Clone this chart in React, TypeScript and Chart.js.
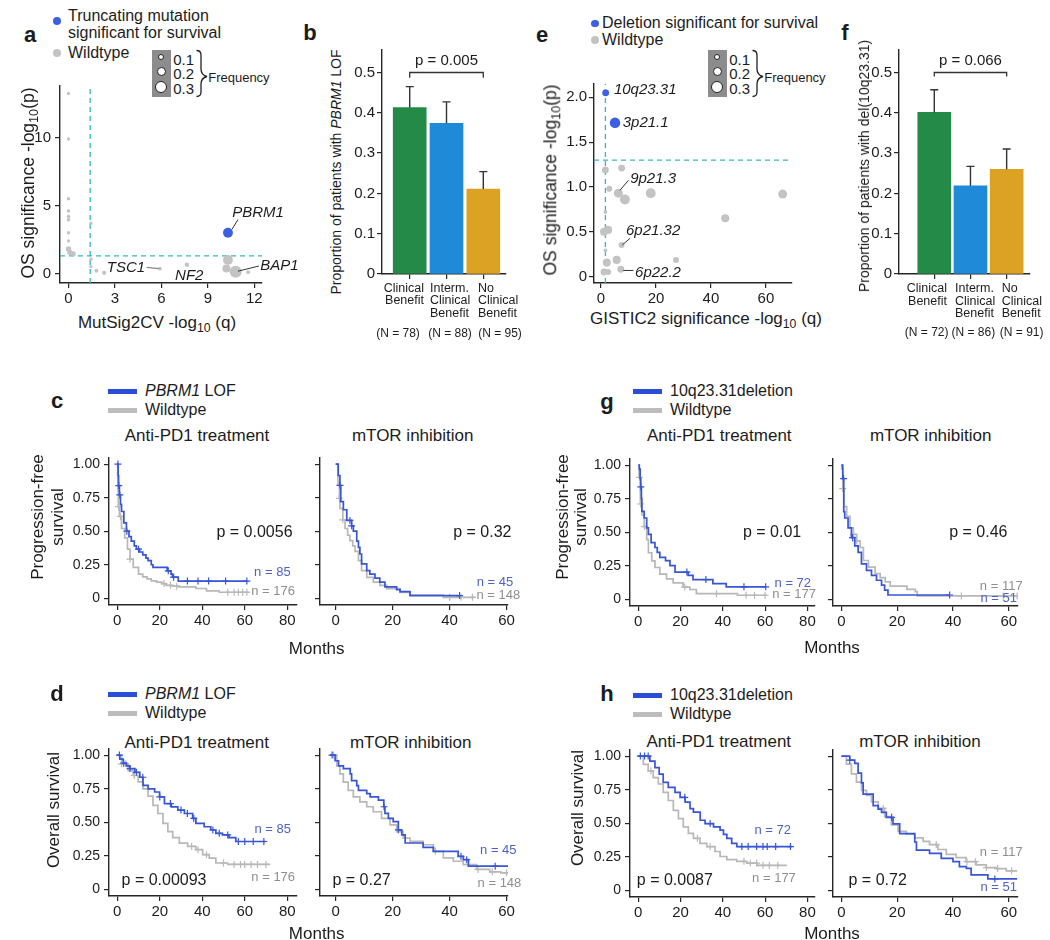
import React, { useEffect, useRef } from 'react';
import { Chart, registerables } from 'chart.js';

Chart.register(...registerables);

const FONT = '"Liberation Sans", Arial, Helvetica, sans-serif';
const INK = '#1c1c1c';
const AXIS = '#262626';
const KM_BLUE = '#3755d6';
const KM_GREY = '#b8b8b8';
const LEG_BLUE = '#2b4ed8';
const LEG_GREY = '#bdbdbd';
const N_BLUE = '#4d63c9';
const N_GREY = '#8f8f8f';
const PT_BLUE = '#3d5fe3';
const PT_GREY = '#c3c3c3';
const TEAL = '#36b8b8';
const BAR_COLORS = ['#248a48', '#1f8ad8', '#dba224'];

// ---------------- data: panel a (MutSig2CV vs OS) ----------------
const aWtQ = [0, 0, 0, 0, 0, 0, 0, 0, 0, 0.1, 0.3, 1.45, 1.45, 1.45, 1.8, 2.3, 5.9, 7.65, 10.3, 10.2, 10.8, 11.6];
const aWtP = [13.25, 9.9, 5.5, 4.6, 4.2, 3.95, 3.0, 2.4, 1.8, 1.55, 1.45, 3.7, 1.05, 0.5, 0.2, 0.05, 0.36, 0.65, 1.0, 0.37, 0.12, 0.1];
const aWtFreq = [0.01, 0.01, 0.02, 0.02, 0.02, 0.02, 0.01, 0.01, 0.08, 0.08, 0.07, 0.01, 0.01, 0.01, 0.03, 0.04, 0.03, 0.05, 0.23, 0.17, 0.3, 0.03];
const aTruncQ = [10.3];
const aTruncP = [3.0];
const aTruncFreq = [0.23];
const aTicksX = [0, 3, 6, 9, 12];
const aTicksY = [0, 5, 10];
const aSigQ = 1.4;
const sigP = 1.3;

// ---------------- data: panel e (GISTIC2 vs OS) ----------------
const eWtQ = [1.6, 7.5, 3.0, 6.3, 8.7, 18.1, 66.1, 45.2, 1.6, 1.1, 2.6, 7.5, 1.6, 5.7, 2.1, 27.3, 7.2, 1.1, 2.6];
const eWtP = [1.19, 1.21, 0.98, 0.93, 0.86, 0.93, 0.92, 0.65, 0.72, 0.5, 0.52, 0.35, 0.29, 0.185, 0.155, 0.185, 0.08, 0.05, 0.05];
const eWtFreq = [0.13, 0.13, 0.1, 0.2, 0.23, 0.23, 0.2, 0.17, 0.03, 0.17, 0.17, 0.1, 0.03, 0.17, 0.17, 0.1, 0.13, 0.13, 0.1];
const eDelQ = [1.7, 5.1];
const eDelP = [2.05, 1.715];
const eDelFreq = [0.13, 0.25];
const eTicksX = [0, 20, 40, 60];
const eTicksY = [0, 0.5, 1, 1.5, 2];
const eSigQ = 1.6;
const freqLegend = [0.1, 0.2, 0.3];

// ---------------- data: panels b, f (bars) ----------------
const benefitGroups = ['Clinical Benefit', 'Interm. Clinical Benefit', 'No Clinical Benefit'];
const groupIdx = [1, 2, 3];
const bLofProp = [0.413, 0.374, 0.211];
const bLofUpper = [0.465, 0.427, 0.254];
const bGroupN = [78, 88, 95];
const bPText = 'p = 0.005';
const fDelProp = [0.401, 0.219, 0.26];
const fDelUpper = [0.457, 0.267, 0.31];
const fGroupN = [72, 86, 91];
const fPText = 'p = 0.066';
const barTicksY = [0, 0.1, 0.2, 0.3, 0.4, 0.5];

// ---------------- data: KM curves (time of drop, survival after) ----------------
const kmTicksY = [0, 0.25, 0.5, 0.75, 1];
const kmTicksWide = [0, 20, 40, 60, 80];
const kmTicksNarrow = [0, 20, 40, 60];

// c: PFS, anti-PD1, PBRM1
const pfsPd1LofT = [0, 0.4, 0.6, 1, 1.5, 2, 3.1, 4.3, 5.5, 6.6, 8, 9, 10.5, 12, 13.5, 14.5, 16, 16.8, 23.5, 25.3, 26, 28.7, 61.2];
const pfsPd1LofS = [1, 0.915, 0.84, 0.77, 0.7, 0.647, 0.562, 0.5, 0.46, 0.426, 0.39, 0.366, 0.345, 0.324, 0.3, 0.28, 0.25, 0.23, 0.205, 0.18, 0.157, 0.128, 0.128];
const pfsPd1LofC = [0.3, 0.7, 1.2, 4.5, 10, 24, 26.5, 33, 38, 43, 51, 61];
const pfsPd1WtT = [0, 0.2, 0.3, 0.5, 1, 2, 3.5, 4.8, 6, 7.5, 10, 12, 14, 16, 18.5, 21, 23, 26, 29, 37, 42, 48, 62];
const pfsPd1WtS = [1, 0.9, 0.8, 0.683, 0.61, 0.52, 0.45, 0.366, 0.292, 0.23, 0.18, 0.16, 0.145, 0.13, 0.121, 0.11, 0.097, 0.09, 0.085, 0.073, 0.056, 0.045, 0.045];
const pfsPd1WtC = [0.6, 1.5, 6, 22, 25, 28, 52, 55, 57, 59, 61];
// c: PFS, mTOR, PBRM1
const pfsMtorLofT = [0, 0.9, 1.5, 1.8, 2.7, 3.9, 5.6, 6.2, 7.4, 8, 8.5, 9.1, 10.9, 12, 13.8, 15.5, 17.3, 21.4, 22.6, 26.1, 43.6];
const pfsMtorLofS = [1, 0.915, 0.842, 0.72, 0.66, 0.58, 0.54, 0.5, 0.426, 0.38, 0.33, 0.256, 0.206, 0.18, 0.15, 0.12, 0.085, 0.065, 0.05, 0.02, 0.02];
const pfsMtorLofC = [1.5, 5, 5.6, 43.5];
const pfsMtorWtT = [0, 0.8, 1.3, 1.5, 2.5, 3.3, 4.2, 5, 6, 6.8, 8, 9.1, 10.9, 13.2, 15.5, 17.9, 22.6, 26.1, 37.8, 48.9];
const pfsMtorWtS = [1, 0.85, 0.744, 0.67, 0.585, 0.52, 0.47, 0.43, 0.39, 0.35, 0.28, 0.206, 0.156, 0.12, 0.096, 0.072, 0.043, 0.023, 0.007, 0.007];
const pfsMtorWtC = [1.3, 2.5, 40, 44, 48];
// g: PFS, anti-PD1, 10q23.31
const pfsPd1DelT = [0, 0.5, 0.9, 1.2, 1.5, 1.7, 2.8, 4, 4.8, 6.1, 7.9, 9, 10.2, 12.9, 15, 17.4, 23.6, 25.9, 35.3, 41.6, 60.3];
const pfsPd1DelS = [1, 0.97, 0.9, 0.838, 0.75, 0.655, 0.606, 0.532, 0.484, 0.423, 0.386, 0.35, 0.312, 0.288, 0.251, 0.203, 0.178, 0.147, 0.117, 0.093, 0.093];
const pfsPd1DelC = [1.2, 23, 32, 50, 60.3];
const pfsPd1Wt2T = [0, 0.4, 0.9, 1, 1.8, 2.8, 4, 4.8, 6.4, 7.9, 10.2, 13.4, 16.5, 21.2, 24.4, 27.5, 46.9, 61];
const pfsPd1Wt2S = [1, 0.908, 0.8, 0.71, 0.628, 0.542, 0.444, 0.347, 0.286, 0.237, 0.188, 0.152, 0.122, 0.091, 0.073, 0.042, 0.03, 0.03];
const pfsPd1Wt2C = [0.6, 1.1, 3, 22, 37, 51, 55, 60];
// g: PFS, mTOR, 10q23.31
const pfsMtorDelT = [0, 0.5, 0.85, 1.2, 2.4, 3.6, 4.8, 6, 7.2, 9, 10.8, 12.6, 14.4, 15.5, 16.7, 38.8];
const pfsMtorDelS = [1, 0.9, 0.654, 0.606, 0.532, 0.459, 0.398, 0.35, 0.264, 0.215, 0.178, 0.142, 0.105, 0.068, 0.032, 0.032];
const pfsMtorDelC = [0.8, 4, 38.8];
const pfsMtorWt2T = [0, 0.1, 0.5, 0.9, 1.9, 3.1, 4.3, 5.5, 6.7, 7.9, 9.7, 12.1, 13.9, 15.7, 17.5, 23.5, 26.5, 27.2, 63];
const pfsMtorWt2S = [1, 0.972, 0.825, 0.691, 0.618, 0.532, 0.484, 0.435, 0.386, 0.289, 0.24, 0.191, 0.162, 0.13, 0.098, 0.074, 0.057, 0.025, 0.025];
const pfsMtorWt2C = [0.5, 4.3, 5.5, 43, 58, 63];
// d: OS, anti-PD1, PBRM1
const osPd1LofT = [0, 1.2, 2.8, 4.3, 5.9, 8.3, 10.6, 12.1, 14.5, 17.6, 19.9, 22.2, 25.4, 28.5, 31.6, 35.5, 37, 40.9, 44, 46.4, 49.5, 52.6, 55.8, 69.8];
const osPd1LofS = [1, 0.97, 0.94, 0.92, 0.9, 0.872, 0.835, 0.774, 0.749, 0.725, 0.688, 0.639, 0.614, 0.59, 0.565, 0.528, 0.491, 0.466, 0.442, 0.417, 0.405, 0.385, 0.356, 0.356];
const osPd1LofC = [1, 3, 6, 9, 12, 20, 25, 30, 33, 36, 45, 48, 52, 57, 60, 64, 69];
const osPd1WtT = [0, 2, 5.1, 7.5, 9.8, 12.1, 14.5, 16.8, 19.1, 21.5, 23.8, 26.1, 29.2, 33.1, 37, 40.2, 43.3, 46.4, 52, 72];
const osPd1WtS = [1, 0.935, 0.885, 0.848, 0.8, 0.749, 0.695, 0.626, 0.565, 0.491, 0.43, 0.385, 0.344, 0.32, 0.295, 0.258, 0.233, 0.196, 0.185, 0.185];
const osPd1WtC = [2, 4, 8, 35, 38, 42, 50, 55, 58, 60, 63, 66, 70];
// d: OS, mTOR, PBRM1
const osMtorLofT = [-2, -0.2, 1, 2.7, 5.1, 5.6, 7.4, 8, 10.9, 12.1, 15, 16.9, 17.3, 18.5, 20.2, 22, 23.2, 24.4, 30.7, 34.3, 43, 44.8, 46.6, 61.2];
const osMtorLofS = [1, 0.958, 0.92, 0.9, 0.86, 0.81, 0.773, 0.737, 0.713, 0.688, 0.664, 0.615, 0.566, 0.529, 0.504, 0.443, 0.406, 0.345, 0.312, 0.283, 0.246, 0.221, 0.172, 0.172];
const osMtorLofC = [-1, 17, 22, 44, 46, 56];
const osMtorWtT = [-2, 0.4, 1.5, 2.7, 4.4, 6.2, 8.5, 10.9, 13.2, 16.1, 19.1, 21.4, 23.7, 26.1, 30.7, 34.3, 37.8, 41.3, 44.8, 49.5, 54.1, 58, 61.8];
const osMtorWtS = [1, 0.92, 0.86, 0.798, 0.737, 0.688, 0.651, 0.615, 0.578, 0.529, 0.48, 0.43, 0.381, 0.357, 0.332, 0.283, 0.234, 0.209, 0.184, 0.148, 0.13, 0.123, 0.123];
const osMtorWtC = [-1.5, 35, 50, 55, 60];
// h: OS, anti-PD1, 10q23.31
const osPd1DelT = [0, 5.5, 7.9, 9.9, 11.8, 14.2, 17.4, 19.8, 22.2, 24.5, 26.1, 29.3, 31.6, 35.6, 38.7, 40.3, 41.9, 44.2, 46.6, 72.6];
const osPd1DelS = [1, 0.963, 0.914, 0.865, 0.804, 0.767, 0.73, 0.693, 0.657, 0.608, 0.583, 0.522, 0.497, 0.473, 0.448, 0.416, 0.387, 0.35, 0.326, 0.326];
const osPd1DelC = [1, 3, 4.7, 22, 34, 49, 52, 56, 59, 61, 65, 72];
const osPd1Wt2T = [0, 2.4, 4.7, 7.1, 9.5, 11.8, 14.2, 16.6, 19, 21.3, 23.7, 26.1, 29.2, 32.4, 36.3, 38.7, 41.9, 46.6, 51.3, 56.1, 70.3];
const osPd1Wt2S = [1, 0.939, 0.89, 0.84, 0.792, 0.73, 0.669, 0.595, 0.534, 0.473, 0.424, 0.387, 0.35, 0.326, 0.289, 0.252, 0.228, 0.216, 0.203, 0.186, 0.186];
const osPd1Wt2C = [6, 28, 34, 50, 53, 56, 59, 62, 66];
// h: OS, mTOR, 10q23.31
const osMtorDelT = [0, 3, 4.8, 6, 7.2, 7.8, 11.4, 13.2, 14.4, 16.1, 18.5, 20.9, 26.3, 26.9, 31.6, 35.8, 40, 42.3, 44.8, 46.5, 52.5, 63];
const osMtorDelS = [1, 0.97, 0.946, 0.873, 0.8, 0.716, 0.631, 0.605, 0.581, 0.544, 0.495, 0.422, 0.36, 0.3, 0.275, 0.238, 0.213, 0.176, 0.164, 0.115, 0.085, 0.085];
const osMtorDelC = [3, 18, 55];
const osMtorWt2T = [0, 1.8, 3.6, 5.4, 7.2, 9, 10.8, 13.2, 15.5, 17.9, 20.3, 23.3, 26.3, 29.3, 31.6, 34.6, 37.6, 41.1, 44.7, 48.3, 51.9, 55.5, 59.1, 63];
const osMtorWt2S = [1, 0.941, 0.868, 0.806, 0.745, 0.708, 0.659, 0.61, 0.549, 0.488, 0.439, 0.419, 0.39, 0.365, 0.341, 0.304, 0.267, 0.243, 0.213, 0.189, 0.169, 0.162, 0.145, 0.145];
const osMtorWt2C = [15, 34, 45, 48, 52, 56, 61];

// ---------------- helpers ----------------
const sizeOf = (f: number) => 1.5 + 15 * f;
const xy = (xs: number[], ys: number[]) => xs.map((x, i) => ({ x, y: ys[i] }));
const stepAt = (t: number[], s: number[], c: number) => {
  let v = s[0];
  for (let i = 0; i < t.length; i++) if (t[i] <= c) v = s[i];
  return v;
};

type Box = { l: number; t: number; r: number; b: number; pl: number; pt: number; pr: number; pb: number };
type Txt = { x: number; y: number; text: string; color?: string; size?: number; italic?: boolean; align?: CanvasTextAlign };
type Seg = { pts: [number, number][]; color: string; width: number };
type Ann = { texts?: Txt[]; segs?: Seg[]; err?: { x: number[]; lo: number[]; hi: number[] } };

function annPlugin(a: Ann) {
  return {
    id: 'ann',
    afterDatasetsDraw(chart: any) {
      const { ctx } = chart;
      const xs = chart.scales.x;
      const ys = chart.scales.y;
      const px = (v: number) => xs.getPixelForValue(v);
      const py = (v: number) => ys.getPixelForValue(v);
      ctx.save();
      (a.segs || []).forEach((s) => {
        ctx.beginPath();
        ctx.strokeStyle = s.color;
        ctx.lineWidth = s.width;
        s.pts.forEach(([x, y], i) => (i ? ctx.lineTo(px(x), py(y)) : ctx.moveTo(px(x), py(y))));
        ctx.stroke();
      });
      if (a.err) {
        const e = a.err;
        ctx.strokeStyle = '#333';
        ctx.lineWidth = 1.4;
        e.x.forEach((xv, i) => {
          const x = px(xv);
          const y0 = py(e.lo[i]);
          const y1 = py(e.hi[i]);
          ctx.beginPath();
          ctx.moveTo(x, y0);
          ctx.lineTo(x, y1);
          ctx.moveTo(x - 4, y1);
          ctx.lineTo(x + 4, y1);
          ctx.stroke();
        });
      }
      (a.texts || []).forEach((t) => {
        ctx.font = `${t.italic ? 'italic ' : ''}${t.size || 16}px ${FONT}`;
        ctx.fillStyle = t.color || INK;
        ctx.textAlign = t.align || 'center';
        ctx.textBaseline = 'middle';
        ctx.fillText(t.text, px(t.x), py(t.y));
      });
      ctx.restore();
    },
  };
}

function base(box: Box) {
  return {
    responsive: false,
    maintainAspectRatio: false,
    animation: false,
    events: [],
    layout: { padding: { top: box.pt, right: box.pr, left: 0, bottom: 0 }, autoPadding: false },
    plugins: { legend: { display: false }, tooltip: { enabled: false }, title: { display: false } },
  };
}

function linAxis(pos: 'left' | 'bottom', min: number, max: number, ticks: number[], fmt: (v: number) => string, size: number, pad: number, fit: number) {
  return {
    type: 'linear',
    position: pos,
    min,
    max,
    offset: false,
    afterBuildTicks: (s: any) => {
      s.ticks = ticks.map((v) => ({ value: v }));
    },
    afterFit: (s: any) => {
      if (pos === 'left') s.width = fit;
      else s.height = fit;
    },
    grid: { display: true, drawOnChartArea: false, drawTicks: true, tickLength: 5, color: AXIS, tickColor: AXIS, lineWidth: 1.2, offset: false },
    border: { display: true, color: AXIS, width: 1.4 },
    ticks: { autoSkip: false, maxRotation: 0, minRotation: 0, color: INK, padding: pad, font: { family: FONT, size }, callback: (v: number) => fmt(v) },
  };
}

function dashed(pts: { x: number; y: number }[]) {
  return { data: pts, showLine: true, borderColor: TEAL, borderDash: [5, 4], borderWidth: 1.3, pointRadius: 0, fill: false };
}

function ChartBox({ box, build }: { box: Box; build: (b: Box) => any }) {
  const ref = useRef<HTMLCanvasElement>(null);
  const w = box.r - box.l + box.pl + box.pr;
  const h = box.b - box.t + box.pt + box.pb;
  useEffect(() => {
    const chart = new Chart(ref.current as HTMLCanvasElement, build(box));
    return () => chart.destroy();
  }, []);
  return <canvas ref={ref} width={w} height={h} style={{ position: 'absolute', left: box.l - box.pl, top: box.t - box.pt, width: w, height: h }} />;
}

// ---------------- scatter panels ----------------
const aRange = { xMin: -0.55, xMax: 12.5, yMin: -0.7, yMax: 13.8 };
const eRange = { xMin: -2.55, xMax: 69.5, yMin: -0.073, yMax: 2.149 };

function buildA(box: Box) {
  const it = { italic: true, size: 15 };
  return {
    type: 'scatter',
    data: {
      datasets: [
        { data: xy(aTruncQ, aTruncP), backgroundColor: PT_BLUE, borderWidth: 0, pointRadius: aTruncFreq.map(sizeOf) },
        { data: xy(aWtQ, aWtP), backgroundColor: PT_GREY, borderWidth: 0, pointRadius: aWtFreq.map(sizeOf) },
        dashed([{ x: aRange.xMin, y: sigP }, { x: aRange.xMax, y: sigP }]),
        dashed([{ x: aSigQ, y: aRange.yMin }, { x: aSigQ, y: aRange.yMax }]),
      ],
    },
    options: {
      ...base(box),
      scales: {
        x: linAxis('bottom', aRange.xMin, aRange.xMax, aTicksX, (v) => String(v), 15, 2, box.pb),
        y: linAxis('left', aRange.yMin, aRange.yMax, aTicksY, (v) => String(v), 15, 4, box.pl),
      },
    },
    plugins: [
      annPlugin({
        segs: [
          { pts: [[10.95, 3.97], [10.56, 3.25]], color: '#333', width: 1 },
          { pts: [[5.05, 0.45], [5.85, 0.36]], color: '#888', width: 1.2 },
          { pts: [[10.95, 0.17], [12.3, 0.55]], color: '#333', width: 1 },
        ],
        texts: [
          { x: 10.58, y: 4.43, text: 'PBRM1', align: 'left', ...it },
          { x: 4.95, y: 0.38, text: 'TSC1', align: 'right', ...it },
          { x: 7.8, y: -0.15, text: 'NF2', ...it },
          { x: 12.39, y: 0.6, text: 'BAP1', align: 'left', ...it },
        ],
      }),
    ],
  };
}

function buildE(box: Box) {
  const it = { italic: true, size: 15, align: 'left' as CanvasTextAlign };
  return {
    type: 'scatter',
    data: {
      datasets: [
        { data: xy(eDelQ, eDelP), backgroundColor: PT_BLUE, borderWidth: 0, pointRadius: eDelFreq.map(sizeOf) },
        { data: xy(eWtQ, eWtP), backgroundColor: PT_GREY, borderWidth: 0, pointRadius: eWtFreq.map(sizeOf) },
        dashed([{ x: eRange.xMin, y: sigP }, { x: eRange.xMax, y: sigP }]),
        dashed([{ x: eSigQ, y: eRange.yMin }, { x: eSigQ, y: eRange.yMax }]),
      ],
    },
    options: {
      ...base(box),
      scales: {
        x: linAxis('bottom', eRange.xMin, eRange.xMax, eTicksX, (v) => String(v), 15, 2, box.pb),
        y: linAxis('left', eRange.yMin, eRange.yMax, eTicksY, (v) => (v === 0 ? '0' : v.toFixed(1)), 15, 2, box.pl),
      },
    },
    plugins: [
      annPlugin({
        segs: [
          { pts: [[6.9, 0.963], [10.0, 1.074]], color: '#333', width: 1 },
          { pts: [[7.76, 0.352], [10.6, 0.427]], color: '#333', width: 1 },
          { pts: [[8.1, 0.067], [11.8, 0.067]], color: '#333', width: 1 },
        ],
        texts: [
          { x: 4.7, y: 2.08, text: '10q23.31', ...it },
          { x: 7.9, y: 1.72, text: '3p21.1', ...it },
          { x: 10.6, y: 1.09, text: '9p21.3', ...it },
          { x: 9.1, y: 0.51, text: '6p21.32', ...it },
          { x: 12.4, y: 0.045, text: '6p22.2', ...it },
        ],
      }),
    ],
  };
}

// ---------------- bar panels ----------------
const barYMax = 0.5558;
function buildBar(xMin: number, xMax: number, props: number[], upper: number[], pText: string, drop: number) {
  return (box: Box) => ({
    type: 'bar',
    data: { datasets: [{ data: xy(groupIdx, props), backgroundColor: BAR_COLORS, borderWidth: 0, barThickness: 33 }] },
    options: {
      ...base(box),
      scales: {
        x: linAxis('bottom', xMin, xMax, groupIdx, () => '', 12, 2, box.pb),
        y: linAxis('left', 0, barYMax, barTicksY, (v) => (v === 0 ? '0' : v.toFixed(1)), 15, 2, box.pl),
      },
    },
    plugins: [
      annPlugin({
        err: { x: groupIdx, lo: props, hi: upper },
        segs: [{ pts: [[1, 0.5 - drop], [1, 0.5], [3, 0.5], [3, 0.5 - drop]], color: '#333', width: 1.3 }],
        texts: [{ x: 2, y: 0.53, text: pText, size: 15 }],
      }),
    ],
  });
}

// ---------------- KM panels ----------------
type Curve = { t: number[]; s: number[]; c: number[]; color: string };
function buildKm(xMin: number, xMax: number, xTicks: number[], yLabels: boolean, curves: Curve[], texts: Txt[]) {
  return (box: Box) => {
    const datasets: any[] = [];
    curves.forEach((cv) => {
      datasets.push({ type: 'line', data: xy(cv.t, cv.s), stepped: true, borderColor: cv.color, borderWidth: 1.7, pointRadius: 0, fill: false });
      datasets.push({
        type: 'line',
        showLine: false,
        data: cv.c.map((x) => ({ x, y: stepAt(cv.t, cv.s, x) })),
        pointStyle: 'cross',
        pointRadius: 3.5,
        borderColor: cv.color,
        borderWidth: 1.2,
        backgroundColor: cv.color,
      });
    });
    return {
      type: 'line',
      data: { datasets },
      options: {
        ...base(box),
        scales: {
          x: linAxis('bottom', xMin, xMax, xTicks, (v) => String(v), 15, 2, box.pb),
          y: linAxis('left', -0.05, 1.05, kmTicksY, (v) => (yLabels ? (v === 0 ? '0' : v.toFixed(2)) : ''), 14, 4, box.pl),
        },
      },
      plugins: [annPlugin({ texts })],
    };
  };
}

const pv = (x: number, y: number, text: string): Txt => ({ x, y, text, size: 16 });
const nb = (x: number, y: number, text: string): Txt => ({ x, y, text, size: 13, color: N_BLUE });
const ng = (x: number, y: number, text: string): Txt => ({ x, y, text, size: 13, color: N_GREY });
const cb = (t: number[], s: number[], c: number[]): Curve => ({ t, s, c, color: KM_BLUE });
const cg = (t: number[], s: number[], c: number[]): Curve => ({ t, s, c, color: KM_GREY });

const kmLeft = (l: number, t: number, r: number, b: number): Box => ({ l, t, r, b, pl: 60, pt: 10, pr: 10, pb: 25 });
const kmRight = (l: number, t: number, r: number, b: number): Box => ({ l, t, r, b, pl: 15, pt: 10, pr: 22, pb: 25 });

// ---------------- HTML text helpers ----------------
function Label({ x, y, size = 16, align = 'center', rotate = false, bold = false, italic = false, color = INK, children }: any) {
  const tx = align === 'left' ? '0' : align === 'right' ? '-100%' : '-50%';
  return (
    <div
      style={{
        position: 'absolute',
        left: x,
        top: y,
        transform: `translate(${tx}, -50%)${rotate ? ' rotate(-90deg)' : ''}`,
        fontFamily: FONT,
        fontSize: size,
        fontWeight: bold ? 700 : 400,
        fontStyle: italic ? 'italic' : 'normal',
        color,
        whiteSpace: 'nowrap',
        lineHeight: 1,
      }}
    >
      {children}
    </div>
  );
}
const Sub = ({ children }: any) => <span style={{ fontSize: '0.72em', position: 'relative', top: '0.32em' }}>{children}</span>;

function Dot({ x, y, r, color }: any) {
  return <div style={{ position: 'absolute', left: x - r, top: y - r, width: 2 * r, height: 2 * r, borderRadius: '50%', background: color }} />;
}

function SizeLegend({ x }: { x: number }) {
  const ys = [57.3, 71, 87.3];
  const ly = [58.5, 73, 88];
  return (
    <>
      <div style={{ position: 'absolute', left: x, top: 50, width: 19, height: 47, background: '#8c8c8c' }} />
      {freqLegend.map((f, i) => {
        const r = sizeOf(f);
        return <div key={i} style={{ position: 'absolute', left: x + 9.5 - r, top: ys[i] - r, width: 2 * r, height: 2 * r, borderRadius: '50%', background: '#fff', boxSizing: 'border-box', border: '1px solid #222' }} />;
      })}
      {freqLegend.map((f, i) => (
        <Label key={'l' + i} x={x + 21.5} y={ly[i]} size={15} align="left">
          {f.toFixed(1)}
        </Label>
      ))}
      <svg style={{ position: 'absolute', left: x + 43, top: 48 }} width={16} height={52}>
        <path d="M1.5,2.5 Q6,2.5 6,7 V21 Q6,27 12,28.5 Q6,30 6,36 V44 Q6,48.5 1.5,48.5" fill="none" stroke="#222" strokeWidth={1.3} />
      </svg>
      <Label x={x + 56.5} y={77} size={13} align="left">
        Frequency
      </Label>
    </>
  );
}

function KmLegend({ x, y, first }: any) {
  return (
    <>
      <div style={{ position: 'absolute', left: x, top: y - 2.5, width: 29, height: 5, background: LEG_BLUE }} />
      <Label x={x + 37} y={y} align="left">
        {first}
      </Label>
      <div style={{ position: 'absolute', left: x, top: y + 19 - 2.5, width: 29, height: 5, background: LEG_GREY }} />
      <Label x={x + 37} y={y + 19} align="left">
        Wildtype
      </Label>
    </>
  );
}

function GroupLabels({ edges, aligns, top, ns, nx, ny }: any) {
  return (
    <>
      {benefitGroups.map((g, i) => (
        <div
          key={i}
          style={{
            position: 'absolute',
            left: edges[i],
            top,
            transform: aligns[i] === 'right' ? 'translateX(-100%)' : 'none',
            textAlign: aligns[i],
            fontFamily: FONT,
            fontSize: 12.5,
            lineHeight: '12.5px',
            whiteSpace: 'nowrap',
            color: INK,
          }}
        >
          {g.split(' ').map((w, j) => (
            <div key={j}>{w}</div>
          ))}
        </div>
      ))}
      {ns.map((n: number, i: number) => (
        <Label key={'n' + i} x={nx[i]} y={ny} size={12}>
          (N = {n})
        </Label>
      ))}
    </>
  );
}

// ---------------- boxes ----------------
const aBox: Box = { l: 60, t: 83, r: 262, b: 283, pl: 45, pt: 10, pr: 45, pb: 25 };
const bBox: Box = { l: 382, t: 50, r: 506, b: 274, pl: 35, pt: 25, pr: 8, pb: 12 };
const eBox: Box = { l: 594, t: 83, r: 792, b: 283, pl: 45, pt: 10, pr: 15, pb: 25 };
const fBox: Box = { l: 899, t: 50, r: 1030, b: 274, pl: 35, pt: 25, pr: 8, pb: 12 };

export default function App() {
  return (
    <div style={{ position: 'absolute', left: 0, top: 0, width: 1050, height: 940, background: '#fff', overflow: 'hidden', fontFamily: FONT, color: INK }}>
      {/* ---------- panel a ---------- */}
      <Label x={30} y={35} size={22} bold>a</Label>
      <Dot x={57.3} y={20.5} r={4} color={PT_BLUE} />
      <Label x={68} y={16} align="left">Truncating mutation</Label>
      <Label x={68} y={33} align="left">significant for survival</Label>
      <Dot x={57.3} y={53} r={4} color={PT_GREY} />
      <Label x={68} y={53} align="left">Wildtype</Label>
      <SizeLegend x={151.7} />
      <ChartBox box={aBox} build={buildA} />
      <Label x={29} y={183} size={17.5} rotate>
        OS significance -log<Sub>10</Sub>(p)
      </Label>
      <Label x={157} y={322} size={17}>
        MutSig2CV -log<Sub>10</Sub> (q)
      </Label>

      {/* ---------- panel b ---------- */}
      <Label x={310} y={33} size={22} bold>b</Label>
      <ChartBox box={bBox} build={buildBar(0.247, 3.617, bLofProp, bLofUpper, bPText, 0.013)} />
      <Label x={336} y={172} size={14} rotate>
        Proportion of patients with <i>PBRM1</i> LOF
      </Label>
      <GroupLabels edges={[424, 430, 478]} aligns={['right', 'left', 'left']} top={281.75} ns={bGroupN} nx={[398, 450, 500]} ny={333} />

      {/* ---------- panel e ---------- */}
      <Label x={542} y={35} size={22} bold>e</Label>
      <Dot x={595} y={23.3} r={3.6} color={PT_BLUE} />
      <Label x={602} y={23} align="left">Deletion significant for survival</Label>
      <Dot x={595} y={39.7} r={4} color={PT_GREY} />
      <Label x={602} y={39.5} align="left">Wildtype</Label>
      <SizeLegend x={707.7} />
      <ChartBox box={eBox} build={buildE} />
      <Label x={551} y={180} size={17.5} rotate>
        OS significance -log<Sub>10</Sub>(p)
      </Label>
      <Label x={706} y={318} size={17}>
        GISTIC2 significance -log<Sub>10</Sub> (q)
      </Label>

      {/* ---------- panel f ---------- */}
      <Label x={845} y={33} size={22} bold>f</Label>
      <ChartBox box={fBox} build={buildBar(0.025, 3.645, fDelProp, fDelUpper, fPText, 0.01)} />
      <Label x={864} y={166} size={14} rotate>
        Proportion of patients with del(10q23.31)
      </Label>
      <GroupLabels edges={[947, 955, 1001.7]} aligns={['right', 'left', 'left']} top={282} ns={fGroupN} nx={[926.7, 973.3, 1021.7]} ny={331.7} />

      {/* ---------- panel c ---------- */}
      <Label x={57} y={401} size={22} bold>c</Label>
      <KmLegend x={108} y={391} first={<><i>PBRM1</i> LOF</>} />
      <Label x={197} y={435} size={17}>Anti-PD1 treatment</Label>
      <Label x={412.7} y={435} size={17}>mTOR inhibition</Label>
      <Label x={37} y={517} size={17} rotate>Progression-free</Label>
      <Label x={57} y={517} size={17} rotate>survival</Label>
      <ChartBox
        box={kmLeft(109, 455, 297, 605)}
        build={buildKm(-3.9, 84.6, kmTicksWide, true, [cb(pfsPd1LofT, pfsPd1LofS, pfsPd1LofC), cg(pfsPd1WtT, pfsPd1WtS, pfsPd1WtC)], [
          pv(64.6, 0.49, 'p = 0.0056'),
          nb(73, 0.19, 'n = 85'),
          ng(73.3, 0.048, 'n = 176'),
        ])}
      />
      <ChartBox
        box={kmRight(320, 455, 508, 605)}
        build={buildKm(-5.5, 60.5, kmTicksNarrow, false, [cb(pfsMtorLofT, pfsMtorLofS, pfsMtorLofC), cg(pfsMtorWtT, pfsMtorWtS, pfsMtorWtC)], [
          pv(51.5, 0.49, 'p = 0.32'),
          nb(55.9, 0.121, 'n = 45'),
          ng(57.1, 0.018, 'n = 148'),
        ])}
      />
      <Label x={316.7} y={648} size={17}>Months</Label>

      {/* ---------- panel g ---------- */}
      <Label x={607} y={402} size={22} bold>g</Label>
      <KmLegend x={633} y={391} first="10q23.31deletion" />
      <Label x={719.3} y={435} size={17}>Anti-PD1 treatment</Label>
      <Label x={930.7} y={435} size={17}>mTOR inhibition</Label>
      <Label x={561.7} y={517} size={17} rotate>Progression-free</Label>
      <Label x={580} y={517} size={17} rotate>survival</Label>
      <ChartBox
        box={kmLeft(630, 456, 815, 606)}
        build={buildKm(-3.9, 83.6, kmTicksWide, true, [cb(pfsPd1DelT, pfsPd1DelS, pfsPd1DelC), cg(pfsPd1Wt2T, pfsPd1Wt2S, pfsPd1Wt2C)], [
          pv(63.3, 0.496, 'p = 0.01'),
          nb(73.1, 0.117, 'n = 72'),
          ng(73.7, 0.038, 'n = 177'),
        ])}
      />
      <ChartBox
        box={kmRight(833, 456, 1018, 606)}
        build={buildKm(-3, 63.3, kmTicksNarrow, false, [cb(pfsMtorDelT, pfsMtorDelS, pfsMtorDelC), cg(pfsMtorWt2T, pfsMtorWt2S, pfsMtorWt2C)], [
          pv(49.1, 0.496, 'p = 0.46'),
          ng(57.3, 0.098, 'n = 117'),
          nb(56.4, 0.007, 'n = 51'),
        ])}
      />
      <Label x={832} y={646.7} size={17}>Months</Label>

      {/* ---------- panel d ---------- */}
      <Label x={57} y={694} size={22} bold>d</Label>
      <KmLegend x={108} y={694.3} first={<><i>PBRM1</i> LOF</>} />
      <Label x={196.7} y={741.7} size={17}>Anti-PD1 treatment</Label>
      <Label x={410.7} y={741.7} size={17}>mTOR inhibition</Label>
      <Label x={53.3} y={810} size={17} rotate>Overall survival</Label>
      <ChartBox
        box={kmLeft(109, 746, 297, 896)}
        build={buildKm(-3.9, 84.6, kmTicksWide, true, [cb(osPd1LofT, osPd1LofS, osPd1LofC), cg(osPd1WtT, osPd1WtS, osPd1WtC)], [
          pv(22, 0.062, 'p = 0.00093'),
          nb(73.2, 0.446, 'n = 85'),
          ng(73.4, 0.092, 'n = 176'),
        ])}
      />
      <ChartBox
        box={kmRight(320, 746, 508, 896)}
        build={buildKm(-5.5, 60.5, kmTicksNarrow, false, [cb(osMtorLofT, osMtorLofS, osMtorLofC), cg(osMtorWtT, osMtorWtS, osMtorWtC)], [
          pv(9.1, 0.062, 'p = 0.27'),
          nb(57.1, 0.287, 'n = 45'),
          ng(57.5, 0.043, 'n = 148'),
        ])}
      />
      <Label x={316.7} y={933} size={17}>Months</Label>

      {/* ---------- panel h ---------- */}
      <Label x={607} y={694} size={22} bold>h</Label>
      <KmLegend x={633} y={695} first="10q23.31deletion" />
      <Label x={718.8} y={741} size={17}>Anti-PD1 treatment</Label>
      <Label x={920} y={741} size={17}>mTOR inhibition</Label>
      <Label x={576.7} y={808} size={17} rotate>Overall survival</Label>
      <ChartBox
        box={kmLeft(630, 747, 815, 897)}
        build={buildKm(-3.9, 83.6, kmTicksWide, true, [cb(osPd1DelT, osPd1DelS, osPd1DelC), cg(osPd1Wt2T, osPd1Wt2S, osPd1Wt2C)], [
          pv(17.3, 0.073, 'p = 0.0087'),
          nb(63.6, 0.444, 'n = 72'),
          ng(64.2, 0.092, 'n = 177'),
        ])}
      />
      <ChartBox
        box={kmRight(833, 747, 1018, 897)}
        build={buildKm(-3, 63.3, kmTicksNarrow, false, [cb(osMtorDelT, osMtorDelS, osMtorDelC), cg(osMtorWt2T, osMtorWt2S, osMtorWt2C)], [
          pv(13, 0.073, 'p = 0.72'),
          ng(57.3, 0.28, 'n = 117'),
          nb(56.4, 0.019, 'n = 51'),
        ])}
      />
      <Label x={832} y={932.7} size={17}>Months</Label>
    </div>
  );
}
